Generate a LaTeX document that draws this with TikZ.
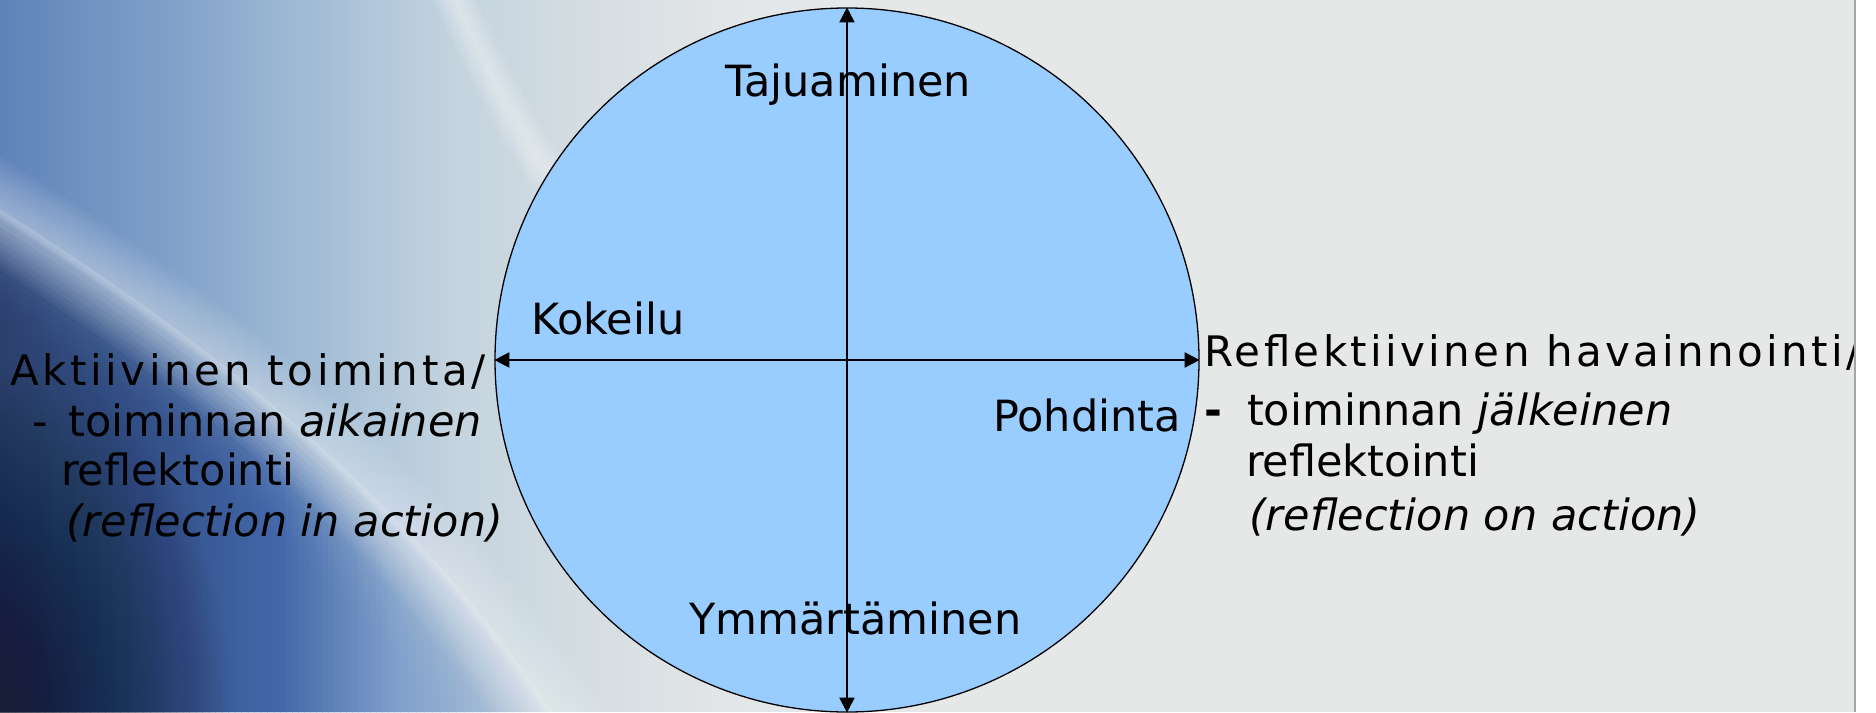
\documentclass[tikz,border=0pt]{standalone}
\usepackage{fontspec}
\setmainfont{DejaVu Sans}[ItalicFont={DejaVu Sans Oblique},BoldFont={DejaVu Sans Bold}]
\newfontfamily\spacedfont{DejaVu Sans}[LetterSpace=8.5,ItalicFont={DejaVu Sans Oblique}]
\newfontfamily\spacedfontR{DejaVu Sans}[LetterSpace=8,ItalicFont={DejaVu Sans Oblique}]
\usetikzlibrary{arrows.meta}
% upper (light) region gradient
\definecolor{ua}{HTML}{5F83B9}
\definecolor{ub}{HTML}{7B9DC7}
\definecolor{uc}{HTML}{9FBAD5}
\definecolor{ud}{HTML}{C3D3DE}
\definecolor{ue}{HTML}{D6DEE2}
\definecolor{uf}{HTML}{E4E7E8}
\definecolor{ug}{HTML}{E6E8E8}
% lower (dark) region gradient
\definecolor{la}{HTML}{2A3D6A}
\definecolor{lb}{HTML}{2F4C85}
\definecolor{lc}{HTML}{3D63A8}
\definecolor{ld}{HTML}{7FA0CC}
\definecolor{le}{HTML}{B4C8DC}
\definecolor{navyblob}{HTML}{161D33}
\definecolor{cfill}{HTML}{99CCFF}
\definecolor{edgegray}{HTML}{A6A6A6}
\tikzset{
  lbl/.style={inner sep=0pt, anchor=base west, font=\fontsize{43}{50}\selectfont},
  headlbl/.style={inner sep=0pt, anchor=base west, font=\spacedfont\fontsize{42}{50}\selectfont},
  headlblR/.style={inner sep=0pt, anchor=base west, font=\spacedfontR\fontsize{42}{50}\selectfont},
  axisarrow/.style={line width=2pt, {Triangle[length=15pt,width=15pt]}-{Triangle[length=15pt,width=15pt]}},
  streak/.style={white, line cap=round}
}
\begin{document}
\begin{tikzpicture}[x=1pt,y=-1pt]
\useasboundingbox (0,0) rectangle (1876,712);
% background
\begin{scope}
\clip (0,0) rectangle (1855,712);
\fill[ug] (0,0) rectangle (1855,712);
\foreach \a/\b/\ca/\cb in {0/150/ua/ub, 150/300/ub/uc, 300/450/uc/ud, 450/600/ud/ue, 600/750/ue/uf, 750/900/uf/ug}{
  \foreach \k in {0,...,29}{
    \pgfmathsetmacro\xa{\a+(\b-\a)*\k/30}
    \pgfmathsetmacro\xb{\a+(\b-\a)*(\k+1)/30+1}
    \pgfmathsetmacro\pp{100-100*(\k+0.5)/30}
    \fill[\ca!\pp!\cb] (\xa,0) rectangle (\xb,712);
  }
}
\foreach \s in {0,6,...,90}{
\begin{scope}[transparency group, opacity=0.14]
\clip[shift={(-0.6*\s,0.8*\s)}] (-20,200) .. controls (170,320) and (400,480) .. (560,730) -- (-200,900) -- (-200,200) -- cycle;
\foreach \a/\b/\ca/\cb in {0/150/la/lb, 150/280/lb/lc, 280/400/lc/ld, 400/560/ld/le}{
  \foreach \k in {0,...,19}{
    \pgfmathsetmacro\xa{\a+(\b-\a)*\k/20}
    \pgfmathsetmacro\xb{\a+(\b-\a)*(\k+1)/20+1}
    \pgfmathsetmacro\pp{100-100*(\k+0.5)/20}
    \fill[\ca!\pp!\cb] (\xa,0) rectangle (\xb,712);
  }
}
\end{scope}
}
\foreach \r in {1,...,50}{
  \fill[navyblob, opacity=0.025] (0,712) ellipse ({\r*4.6} and {\r*7});
}
\foreach \w in {8,16,...,100}{
  \draw[streak, opacity=0.04, line width=\w pt] (-20,200) .. controls (170,320) and (400,480) .. (560,730);
}
\draw[streak, opacity=0.12, line width=6pt] (-20,200) .. controls (170,320) and (400,480) .. (560,730);
\foreach \w in {4,10,...,40}{
  \draw[streak, opacity=0.07, line width=\w pt] (450,-10) .. controls (480,50) and (505,110) .. (545,170);
}
\end{scope}
% circle and axes
\node[circle, draw, fill=cfill, line width=1.3pt, minimum size=704pt, inner sep=0pt] (c) at (847,360) {};
\draw[axisarrow] (c.south) -- (c.north);
\draw[axisarrow] (c.east) -- (c.west);
% inner labels
\node[lbl, anchor=base] (taju) at (848,96) {Tajuaminen};
\node[lbl] (kok) at (531,334) {Kokeilu};
\node[lbl] (pohd) at (993,431) {Pohdinta};
\node[lbl] (ymm) at (689,634) {Ymmärtäminen};
% left block
\node[headlbl] (akt) at (10,385) {Aktiivinen toiminta/};
\node[lbl] (akt2) at (32,436) {-\hskip 21pt toiminnan \textit{aikainen}};
\node[lbl] (akt3) at (61,485) {reflektointi};
\node[lbl] (akt4) at (66,536) {\textit{(reflection in action)}};
% right block
\node[headlblR] (refl) at (1204,366) {Reflektiivinen havainnointi/};
\node[lbl] (refl2) at (1204,425) {\textbf{-}\hskip 25pt toiminnan \textit{jälkeinen}};
\node[lbl] (refl3) at (1246,476) {reflektointi};
\node[lbl] (refl4) at (1249,530) {\textit{(reflection on action)}};
% slide edge
\fill[white] (1856,0) rectangle (1876,712);
\draw[edgegray, line width=2pt] (1855,0) -- (1855,712);
\end{tikzpicture}
\end{document}
